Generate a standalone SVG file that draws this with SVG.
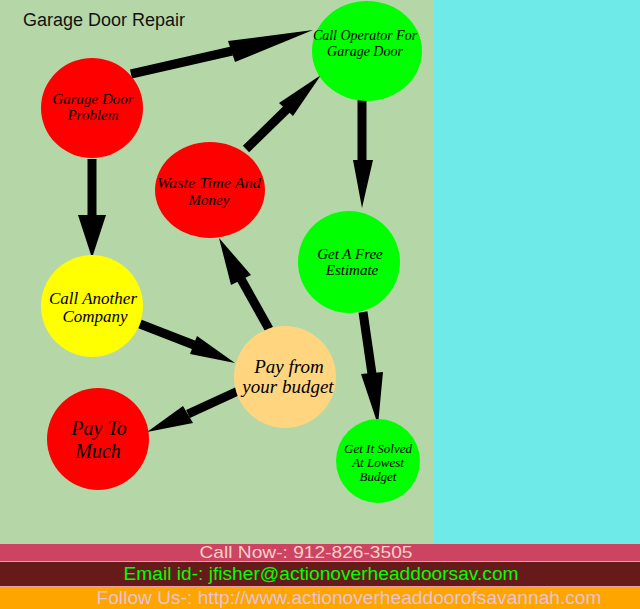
<svg xmlns="http://www.w3.org/2000/svg" width="640" height="609" viewBox="0 0 640 609">
<style>
.ln{stroke:#000;stroke-width:9;fill:none}
.hd{fill:#000}
.nt{font-family:"Liberation Serif","DejaVu Serif",serif;font-style:italic;fill:#000;text-anchor:middle}
.bt{font-family:"Liberation Sans",Arial,sans-serif;text-anchor:middle}
</style>
<rect x="0" y="0" width="640" height="609" fill="#b5d7a8"/>
<rect x="433" y="0" width="207" height="545" fill="#6eeae8"/>
<rect x="0" y="544" width="640" height="17" fill="#cc4462"/>
<rect x="0" y="561" width="640" height="1" fill="#e8a0a0"/>
<rect x="0" y="562" width="640" height="25" fill="#661a1a"/>
<rect x="0" y="586" width="640" height="1" fill="#e8a0a0"/>
<rect x="0" y="587" width="640" height="22" fill="#ffa500"/>
<text x="23" y="26" font-family="Liberation Sans,Arial,sans-serif" font-size="18" fill="#111">Garage Door Repair</text>

<g id="connectors">
<line class="ln" x1="131" y1="74" x2="232" y2="51"/>
<polygon class="hd" points="228,41 235,62 313,30"/>
<line class="ln" x1="246" y1="149" x2="287" y2="109"/>
<polygon class="hd" points="279,103 293,116 321,75"/>
<line class="ln" x1="362" y1="100" x2="362" y2="162"/>
<polygon class="hd" points="353,160 373,160 362,208"/>
<line class="ln" x1="92" y1="159" x2="92" y2="217"/>
<polygon class="hd" points="78,215 106,215 92,258"/>
<line class="ln" x1="140" y1="324" x2="194" y2="345"/>
<polygon class="hd" points="197,336 190,354 235,363"/>
<line class="ln" x1="269" y1="329" x2="241" y2="279"/>
<polygon class="hd" points="231,285 251,275 219,238"/>
<line class="ln" x1="238" y1="391" x2="188" y2="414"/>
<polygon class="hd" points="183,406 193,423 147,432"/>
<line class="ln" x1="363" y1="312" x2="372" y2="374"/>
<polygon class="hd" points="361,374 383,372 378,425"/>
</g>

<g id="n-gdp">
<ellipse cx="92" cy="108" rx="51" ry="50" fill="#ff0000"/>
<text class="nt" x="93" y="104" font-size="15">Garage Door</text>
<text class="nt" x="93" y="120" font-size="15">Problem</text>
</g>
<g id="n-op">
<ellipse cx="367" cy="51" rx="55" ry="50" fill="#00ff00"/>
<text class="nt" x="365" y="40" font-size="14">Call Operator For</text>
<text class="nt" x="365" y="56" font-size="14">Garage Door</text>
</g>
<g id="n-waste">
<ellipse cx="210" cy="190" rx="55" ry="48" fill="#ff0000"/>
<text class="nt" x="209" y="188" font-size="15" textLength="104" lengthAdjust="spacingAndGlyphs">Waste Time And</text>
<text class="nt" x="209" y="205" font-size="15">Money</text>
</g>
<g id="n-est">
<ellipse cx="349" cy="262" rx="51" ry="51" fill="#00ff00"/>
<text class="nt" x="350" y="259" font-size="15">Get A Free</text>
<text class="nt" x="352" y="275" font-size="15">Estimate</text>
</g>
<g id="n-another">
<ellipse cx="92" cy="306" rx="51" ry="51" fill="#ffff00"/>
<text class="nt" x="93" y="304" font-size="17">Call Another</text>
<text class="nt" x="95" y="322" font-size="17">Company</text>
</g>
<g id="n-pay">
<ellipse cx="285" cy="377" rx="51" ry="51" fill="#ffd580"/>
<text class="nt" x="289" y="373" font-size="19">Pay from</text>
<text class="nt" x="288" y="393" font-size="19">your budget</text>
</g>
<g id="n-much">
<ellipse cx="98" cy="439" rx="51" ry="51" fill="#ff0000"/>
<text class="nt" x="99" y="435" font-size="20">Pay To</text>
<text class="nt" x="98" y="458" font-size="20">Much</text>
</g>
<g id="n-solved">
<ellipse cx="378" cy="461" rx="42" ry="42" fill="#00ff00"/>
<text class="nt" x="378" y="453" font-size="13">Get It Solved</text>
<text class="nt" x="378" y="467" font-size="13">At Lowest</text>
<text class="nt" x="378" y="481" font-size="13">Budget</text>
</g>

<text class="bt" x="306" y="558" font-size="17" fill="#f6d0c8" textLength="213" lengthAdjust="spacingAndGlyphs">Call Now-: 912-826-3505</text>
<text class="bt" x="321" y="580" font-size="18" fill="#00ff00" textLength="395" lengthAdjust="spacingAndGlyphs">Email id-: jfisher@actionoverheaddoorsav.com</text>
<text class="bt" x="349" y="604" font-size="18" fill="#e6c3dc" textLength="505" lengthAdjust="spacingAndGlyphs">Follow Us-: http://www.actionoverheaddoorofsavannah.com</text>
</svg>
